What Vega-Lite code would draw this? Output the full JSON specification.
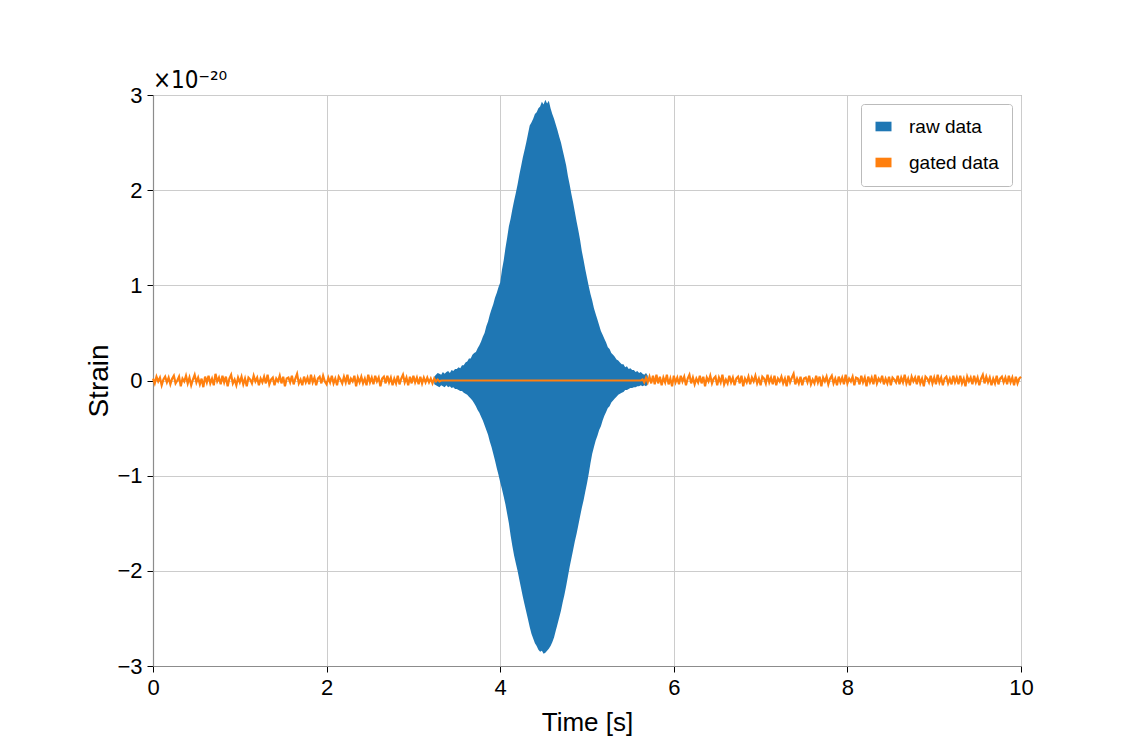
{
  "$schema": "https://vega.github.io/schema/vega-lite/v6.json",
  "autosize": "none",
  "width": 868,
  "height": 571,
  "padding": {"left": 153, "top": 95, "right": 124, "bottom": 78},
  "background": "white",
  "title": {"text": "×10⁻²⁰", "anchor": "start", "frame": "group", "offset": -9},
  "config": {
    "view": {"stroke": "#8c8c8c", "strokeWidth": 1},
    "title": {"font": "DejaVu Sans Condensed, DejaVu Sans", "fontSize": 24, "fontWeight": "normal", "color": "#000000"},
    "axis": {
      "labelFont": "Liberation Sans, sans-serif",
      "labelFontSize": 22,
      "labelColor": "#000000",
      "titleFont": "Liberation Sans, sans-serif",
      "titleFontSize": 26,
      "titleFontWeight": "normal",
      "titleColor": "#000000",
      "gridColor": "#cccccc",
      "gridWidth": 1,
      "domainColor": "#8c8c8c",
      "domainWidth": 1.2,
      "tickColor": "#000000",
      "tickSize": 6,
      "tickWidth": 1
    },
    "legend": {
      "labelFont": "Liberation Sans, sans-serif",
      "labelFontSize": 19,
      "labelColor": "#000000"
    }
  },
  "datasets": {
    "raw": [
      {"t":3.24,"hi":0.04,"lo":-0.04},{"t":3.26,"hi":0.06,"lo":-0.05},{"t":3.28,"hi":0.08,"lo":-0.06},
      {"t":3.30,"hi":0.07,"lo":-0.07},{"t":3.32,"hi":0.06,"lo":-0.05},{"t":3.34,"hi":0.09,"lo":-0.06},{"t":3.36,"hi":0.07,"lo":-0.07},{"t":3.38,"hi":0.09,"lo":-0.05},
      {"t":3.40,"hi":0.10,"lo":-0.07},{"t":3.42,"hi":0.08,"lo":-0.06},{"t":3.44,"hi":0.11,"lo":-0.08},{"t":3.46,"hi":0.10,"lo":-0.07},{"t":3.48,"hi":0.12,"lo":-0.09},
      {"t":3.50,"hi":0.12,"lo":-0.09},{"t":3.52,"hi":0.14,"lo":-0.10},{"t":3.54,"hi":0.13,"lo":-0.11},{"t":3.56,"hi":0.16,"lo":-0.11},{"t":3.58,"hi":0.16,"lo":-0.13},
      {"t":3.60,"hi":0.19,"lo":-0.14},{"t":3.62,"hi":0.20,"lo":-0.15},{"t":3.64,"hi":0.23,"lo":-0.17},{"t":3.66,"hi":0.23,"lo":-0.19},{"t":3.68,"hi":0.27,"lo":-0.21},
      {"t":3.70,"hi":0.29,"lo":-0.24},{"t":3.72,"hi":0.30,"lo":-0.27},{"t":3.74,"hi":0.34,"lo":-0.31},{"t":3.76,"hi":0.37,"lo":-0.34},{"t":3.78,"hi":0.41,"lo":-0.38},
      {"t":3.80,"hi":0.46,"lo":-0.42},{"t":3.82,"hi":0.50,"lo":-0.47},{"t":3.84,"hi":0.57,"lo":-0.52},{"t":3.86,"hi":0.62,"lo":-0.57},{"t":3.88,"hi":0.69,"lo":-0.64},
      {"t":3.90,"hi":0.75,"lo":-0.70},{"t":3.92,"hi":0.80,"lo":-0.77},{"t":3.94,"hi":0.87,"lo":-0.84},{"t":3.96,"hi":0.92,"lo":-0.92},{"t":3.98,"hi":0.98,"lo":-0.99},
      {"t":4.00,"hi":1.03,"lo":-1.07},{"t":4.02,"hi":1.16,"lo":-1.14},{"t":4.04,"hi":1.26,"lo":-1.22},{"t":4.06,"hi":1.39,"lo":-1.30},{"t":4.08,"hi":1.50,"lo":-1.40},
      {"t":4.10,"hi":1.62,"lo":-1.50},{"t":4.12,"hi":1.70,"lo":-1.63},{"t":4.14,"hi":1.80,"lo":-1.74},{"t":4.16,"hi":1.89,"lo":-1.84},{"t":4.18,"hi":1.97,"lo":-1.92},
      {"t":4.20,"hi":2.06,"lo":-2.00},{"t":4.22,"hi":2.16,"lo":-2.09},{"t":4.24,"hi":2.25,"lo":-2.18},{"t":4.26,"hi":2.34,"lo":-2.27},{"t":4.28,"hi":2.42,"lo":-2.35},
      {"t":4.30,"hi":2.50,"lo":-2.43},{"t":4.32,"hi":2.59,"lo":-2.51},{"t":4.34,"hi":2.68,"lo":-2.59},{"t":4.36,"hi":2.71,"lo":-2.66},{"t":4.38,"hi":2.75,"lo":-2.71},
      {"t":4.40,"hi":2.80,"lo":-2.76},{"t":4.42,"hi":2.82,"lo":-2.79},{"t":4.44,"hi":2.86,"lo":-2.83},{"t":4.46,"hi":2.88,"lo":-2.85},{"t":4.48,"hi":2.93,"lo":-2.84},
      {"t":4.50,"hi":2.90,"lo":-2.87},{"t":4.52,"hi":2.95,"lo":-2.86},{"t":4.54,"hi":2.91,"lo":-2.84},{"t":4.56,"hi":2.94,"lo":-2.82},{"t":4.58,"hi":2.86,"lo":-2.79},
      {"t":4.60,"hi":2.80,"lo":-2.75},{"t":4.62,"hi":2.75,"lo":-2.70},{"t":4.64,"hi":2.69,"lo":-2.63},{"t":4.66,"hi":2.63,"lo":-2.56},{"t":4.68,"hi":2.56,"lo":-2.49},
      {"t":4.70,"hi":2.50,"lo":-2.42},{"t":4.72,"hi":2.42,"lo":-2.33},{"t":4.74,"hi":2.34,"lo":-2.25},{"t":4.76,"hi":2.26,"lo":-2.16},{"t":4.78,"hi":2.15,"lo":-2.06},
      {"t":4.80,"hi":2.06,"lo":-1.96},{"t":4.82,"hi":1.96,"lo":-1.87},{"t":4.84,"hi":1.87,"lo":-1.78},{"t":4.86,"hi":1.77,"lo":-1.69},{"t":4.88,"hi":1.67,"lo":-1.61},
      {"t":4.90,"hi":1.58,"lo":-1.52},{"t":4.92,"hi":1.48,"lo":-1.43},{"t":4.94,"hi":1.36,"lo":-1.34},{"t":4.96,"hi":1.27,"lo":-1.26},{"t":4.98,"hi":1.17,"lo":-1.17},
      {"t":5.00,"hi":1.08,"lo":-1.08},{"t":5.02,"hi":0.99,"lo":-0.98},{"t":5.04,"hi":0.91,"lo":-0.87},{"t":5.06,"hi":0.84,"lo":-0.77},{"t":5.08,"hi":0.76,"lo":-0.70},
      {"t":5.10,"hi":0.70,"lo":-0.63},{"t":5.12,"hi":0.64,"lo":-0.58},{"t":5.14,"hi":0.58,"lo":-0.52},{"t":5.16,"hi":0.52,"lo":-0.48},{"t":5.18,"hi":0.48,"lo":-0.42},
      {"t":5.20,"hi":0.44,"lo":-0.37},{"t":5.22,"hi":0.40,"lo":-0.33},{"t":5.24,"hi":0.35,"lo":-0.29},{"t":5.26,"hi":0.33,"lo":-0.27},{"t":5.28,"hi":0.29,"lo":-0.23},
      {"t":5.30,"hi":0.27,"lo":-0.21},{"t":5.32,"hi":0.25,"lo":-0.19},{"t":5.34,"hi":0.22,"lo":-0.17},{"t":5.36,"hi":0.21,"lo":-0.15},{"t":5.38,"hi":0.19,"lo":-0.14},
      {"t":5.40,"hi":0.17,"lo":-0.13},{"t":5.42,"hi":0.17,"lo":-0.12},{"t":5.44,"hi":0.14,"lo":-0.10},{"t":5.46,"hi":0.15,"lo":-0.10},{"t":5.48,"hi":0.12,"lo":-0.09},
      {"t":5.50,"hi":0.13,"lo":-0.08},{"t":5.52,"hi":0.11,"lo":-0.08},{"t":5.54,"hi":0.11,"lo":-0.07},{"t":5.56,"hi":0.09,"lo":-0.07},{"t":5.58,"hi":0.10,"lo":-0.06},
      {"t":5.60,"hi":0.08,"lo":-0.06},{"t":5.62,"hi":0.09,"lo":-0.05},{"t":5.64,"hi":0.07,"lo":-0.06},{"t":5.66,"hi":0.06,"lo":-0.05},{"t":5.68,"hi":0.08,"lo":-0.06},
      {"t":5.70,"hi":0.05,"lo":-0.04}
    ],
    "gated": [
      {"t":0.00,"g":0.02},{"t":0.02,"g":-0.03},{"t":0.04,"g":0.04},{"t":0.06,"g":-0.01},{"t":0.08,"g":0.03},{"t":0.10,"g":-0.05},{"t":0.12,"g":0.01},{"t":0.14,"g":0.04},{"t":0.16,"g":-0.02},{"t":0.18,"g":0.03},
      {"t":0.20,"g":-0.04},{"t":0.22,"g":0.02},{"t":0.24,"g":0.05},{"t":0.26,"g":-0.03},{"t":0.28,"g":0.00},{"t":0.30,"g":0.04},{"t":0.32,"g":-0.06},{"t":0.34,"g":0.02},{"t":0.36,"g":-0.01},{"t":0.38,"g":0.05},
      {"t":0.40,"g":-0.03},{"t":0.42,"g":0.03},{"t":0.44,"g":-0.05},{"t":0.46,"g":0.01},{"t":0.48,"g":0.06},{"t":0.50,"g":-0.02},{"t":0.52,"g":0.03},{"t":0.54,"g":-0.04},{"t":0.56,"g":0.02},{"t":0.58,"g":-0.07},
      {"t":0.60,"g":0.04},{"t":0.62,"g":-0.02},{"t":0.64,"g":0.05},{"t":0.66,"g":-0.03},{"t":0.68,"g":0.02},{"t":0.70,"g":-0.05},{"t":0.72,"g":0.07},{"t":0.74,"g":-0.01},{"t":0.76,"g":0.03},{"t":0.78,"g":-0.04},
      {"t":0.80,"g":0.05},{"t":0.82,"g":-0.02},{"t":0.84,"g":0.04},{"t":0.86,"g":-0.06},{"t":0.88,"g":0.02},{"t":0.90,"g":0.06},{"t":0.92,"g":-0.03},{"t":0.94,"g":0.01},{"t":0.96,"g":-0.05},{"t":0.98,"g":0.03},
      {"t":1.00,"g":-0.02},{"t":1.02,"g":0.04},{"t":1.04,"g":-0.04},{"t":1.06,"g":0.02},{"t":1.08,"g":-0.06},{"t":1.10,"g":0.03},{"t":1.12,"g":0.01},{"t":1.14,"g":-0.03},{"t":1.16,"g":0.05},{"t":1.18,"g":-0.01},
      {"t":1.20,"g":0.03},{"t":1.22,"g":-0.05},{"t":1.24,"g":0.02},{"t":1.26,"g":-0.02},{"t":1.28,"g":0.04},{"t":1.30,"g":-0.03},{"t":1.32,"g":0.06},{"t":1.34,"g":-0.04},{"t":1.36,"g":0.01},{"t":1.38,"g":0.03},
      {"t":1.40,"g":-0.05},{"t":1.42,"g":0.02},{"t":1.44,"g":-0.01},{"t":1.46,"g":0.05},{"t":1.48,"g":-0.03},{"t":1.50,"g":0.04},{"t":1.52,"g":-0.06},{"t":1.54,"g":0.02},{"t":1.56,"g":0.03},{"t":1.58,"g":-0.02},
      {"t":1.60,"g":0.05},{"t":1.62,"g":-0.04},{"t":1.64,"g":0.02},{"t":1.66,"g":0.07},{"t":1.68,"g":-0.03},{"t":1.70,"g":0.01},{"t":1.72,"g":-0.05},{"t":1.74,"g":0.04},{"t":1.76,"g":-0.02},{"t":1.78,"g":0.03},
      {"t":1.80,"g":-0.04},{"t":1.82,"g":0.06},{"t":1.84,"g":-0.02},{"t":1.86,"g":0.03},{"t":1.88,"g":-0.05},{"t":1.90,"g":0.02},{"t":1.92,"g":0.04},{"t":1.94,"g":-0.03},{"t":1.96,"g":0.05},{"t":1.98,"g":-0.01},
      {"t":2.00,"g":-0.04},{"t":2.02,"g":0.03},{"t":2.04,"g":-0.02},{"t":2.06,"g":0.05},{"t":2.08,"g":-0.03},{"t":2.10,"g":0.02},{"t":2.12,"g":-0.05},{"t":2.14,"g":0.04},{"t":2.16,"g":0.01},{"t":2.18,"g":-0.03},
      {"t":2.20,"g":0.04},{"t":2.22,"g":-0.02},{"t":2.24,"g":0.06},{"t":2.26,"g":-0.04},{"t":2.28,"g":0.02},{"t":2.30,"g":-0.01},{"t":2.32,"g":0.05},{"t":2.34,"g":-0.06},{"t":2.36,"g":0.03},{"t":2.38,"g":-0.02},
      {"t":2.40,"g":0.04},{"t":2.42,"g":-0.03},{"t":2.44,"g":0.02},{"t":2.46,"g":-0.05},{"t":2.48,"g":0.06},{"t":2.50,"g":-0.02},{"t":2.52,"g":0.03},{"t":2.54,"g":-0.04},{"t":2.56,"g":0.05},{"t":2.58,"g":-0.01},
      {"t":2.60,"g":0.03},{"t":2.62,"g":-0.06},{"t":2.64,"g":0.02},{"t":2.66,"g":0.04},{"t":2.68,"g":-0.03},{"t":2.70,"g":0.05},{"t":2.72,"g":-0.02},{"t":2.74,"g":0.03},{"t":2.76,"g":-0.05},{"t":2.78,"g":0.02},
      {"t":2.80,"g":-0.03},{"t":2.82,"g":0.05},{"t":2.84,"g":-0.04},{"t":2.86,"g":0.02},{"t":2.88,"g":0.06},{"t":2.90,"g":-0.02},{"t":2.92,"g":0.03},{"t":2.94,"g":-0.05},{"t":2.96,"g":0.04},{"t":2.98,"g":-0.03},
      {"t":3.00,"g":0.05},{"t":3.02,"g":-0.02},{"t":3.04,"g":0.03},{"t":3.06,"g":-0.04},{"t":3.08,"g":0.04},{"t":3.10,"g":-0.03},{"t":3.12,"g":0.03},{"t":3.14,"g":-0.02},{"t":3.16,"g":0.03},{"t":3.18,"g":-0.02},
      {"t":3.20,"g":0.02},{"t":3.22,"g":-0.03},{"t":3.24,"g":0.02},{"t":3.26,"g":-0.01},{"t":3.28,"g":0.01},{"t":3.30,"g":-0.01},
      {"t":3.32,"g":0.00},{"t":5.62,"g":0.00},
      {"t":5.64,"g":0.01},{"t":5.66,"g":-0.02},{"t":5.68,"g":0.03},{"t":5.70,"g":-0.02},{"t":5.72,"g":0.04},{"t":5.74,"g":-0.03},{"t":5.76,"g":0.05},{"t":5.78,"g":-0.04},{"t":5.80,"g":0.06},{"t":5.82,"g":-0.03},
      {"t":5.84,"g":0.04},{"t":5.86,"g":-0.05},{"t":5.88,"g":0.03},{"t":5.90,"g":-0.02},{"t":5.92,"g":0.06},{"t":5.94,"g":-0.04},{"t":5.96,"g":0.02},{"t":5.98,"g":-0.06},{"t":6.00,"g":0.05},{"t":6.02,"g":-0.02},
      {"t":6.04,"g":0.03},{"t":6.06,"g":-0.04},{"t":6.08,"g":0.05},{"t":6.10,"g":-0.01},{"t":6.12,"g":0.04},{"t":6.14,"g":-0.05},{"t":6.16,"g":0.02},{"t":6.18,"g":0.06},{"t":6.20,"g":-0.03},{"t":6.22,"g":0.03},
      {"t":6.24,"g":-0.04},{"t":6.26,"g":0.02},{"t":6.28,"g":-0.02},{"t":6.30,"g":0.05},{"t":6.32,"g":-0.03},{"t":6.34,"g":0.04},{"t":6.36,"g":-0.06},{"t":6.38,"g":0.03},{"t":6.40,"g":-0.01},{"t":6.42,"g":0.05},
      {"t":6.44,"g":-0.03},{"t":6.46,"g":0.02},{"t":6.48,"g":0.04},{"t":6.50,"g":-0.05},{"t":6.52,"g":0.03},{"t":6.54,"g":-0.02},{"t":6.56,"g":0.06},{"t":6.58,"g":-0.04},{"t":6.60,"g":0.01},{"t":6.62,"g":-0.03},
      {"t":6.64,"g":0.05},{"t":6.66,"g":-0.02},{"t":6.68,"g":0.03},{"t":6.70,"g":-0.05},{"t":6.72,"g":0.02},{"t":6.74,"g":0.04},{"t":6.76,"g":-0.03},{"t":6.78,"g":0.05},{"t":6.80,"g":-0.06},{"t":6.82,"g":0.02},
      {"t":6.84,"g":-0.02},{"t":6.86,"g":0.04},{"t":6.88,"g":-0.04},{"t":6.90,"g":0.03},{"t":6.92,"g":-0.01},{"t":6.94,"g":0.05},{"t":6.96,"g":-0.03},{"t":6.98,"g":0.02},{"t":7.00,"g":-0.05},{"t":7.02,"g":0.04},
      {"t":7.04,"g":0.02},{"t":7.06,"g":-0.03},{"t":7.08,"g":0.06},{"t":7.10,"g":-0.02},{"t":7.12,"g":0.03},{"t":7.14,"g":-0.04},{"t":7.16,"g":0.05},{"t":7.18,"g":-0.05},{"t":7.20,"g":0.02},{"t":7.22,"g":-0.01},
      {"t":7.24,"g":0.04},{"t":7.26,"g":-0.03},{"t":7.28,"g":0.02},{"t":7.30,"g":-0.06},{"t":7.32,"g":0.05},{"t":7.34,"g":-0.02},{"t":7.36,"g":0.03},{"t":7.38,"g":0.07},{"t":7.40,"g":-0.04},{"t":7.42,"g":0.02},
      {"t":7.44,"g":-0.03},{"t":7.46,"g":0.04},{"t":7.48,"g":-0.05},{"t":7.50,"g":0.02},{"t":7.52,"g":0.03},{"t":7.54,"g":-0.02},{"t":7.56,"g":0.05},{"t":7.58,"g":-0.04},{"t":7.60,"g":0.01},{"t":7.62,"g":-0.03},
      {"t":7.64,"g":0.05},{"t":7.66,"g":-0.02},{"t":7.68,"g":0.04},{"t":7.70,"g":-0.06},{"t":7.72,"g":0.03},{"t":7.74,"g":-0.01},{"t":7.76,"g":0.04},{"t":7.78,"g":-0.04},{"t":7.80,"g":0.02},{"t":7.82,"g":0.05},
      {"t":7.84,"g":-0.03},{"t":7.86,"g":0.02},{"t":7.88,"g":-0.05},{"t":7.90,"g":0.04},{"t":7.92,"g":-0.02},{"t":7.94,"g":0.03},{"t":7.96,"g":-0.04},{"t":7.98,"g":0.06},{"t":8.00,"g":-0.03},{"t":8.02,"g":0.02},
      {"t":8.04,"g":-0.01},{"t":8.06,"g":0.04},{"t":8.08,"g":-0.05},{"t":8.10,"g":0.03},{"t":8.12,"g":0.02},{"t":8.14,"g":-0.04},{"t":8.16,"g":0.05},{"t":8.18,"g":-0.02},{"t":8.20,"g":0.03},{"t":8.22,"g":-0.06},
      {"t":8.24,"g":0.04},{"t":8.26,"g":-0.02},{"t":8.28,"g":0.03},{"t":8.30,"g":-0.04},{"t":8.32,"g":0.06},{"t":8.34,"g":-0.03},{"t":8.36,"g":0.02},{"t":8.38,"g":-0.01},{"t":8.40,"g":0.05},{"t":8.42,"g":-0.04},
      {"t":8.44,"g":0.02},{"t":8.46,"g":-0.03},{"t":8.48,"g":0.04},{"t":8.50,"g":-0.05},{"t":8.52,"g":0.03},{"t":8.54,"g":0.01},{"t":8.56,"g":-0.02},{"t":8.58,"g":0.05},{"t":8.60,"g":-0.04},{"t":8.62,"g":0.03},
      {"t":8.64,"g":-0.02},{"t":8.66,"g":0.06},{"t":8.68,"g":-0.03},{"t":8.70,"g":0.02},{"t":8.72,"g":-0.05},{"t":8.74,"g":0.04},{"t":8.76,"g":-0.01},{"t":8.78,"g":0.03},{"t":8.80,"g":-0.04},{"t":8.82,"g":0.05},
      {"t":8.84,"g":-0.03},{"t":8.86,"g":0.02},{"t":8.88,"g":-0.06},{"t":8.90,"g":0.04},{"t":8.92,"g":0.02},{"t":8.94,"g":-0.02},{"t":8.96,"g":0.05},{"t":8.98,"g":-0.03},{"t":9.00,"g":0.03},{"t":9.02,"g":-0.04},
      {"t":9.04,"g":0.06},{"t":9.06,"g":-0.02},{"t":9.08,"g":0.03},{"t":9.10,"g":-0.05},{"t":9.12,"g":0.02},{"t":9.14,"g":0.04},{"t":9.16,"g":-0.03},{"t":9.18,"g":0.02},{"t":9.20,"g":-0.04},{"t":9.22,"g":0.05},
      {"t":9.24,"g":-0.02},{"t":9.26,"g":0.03},{"t":9.28,"g":-0.04},{"t":9.30,"g":0.05},{"t":9.32,"g":-0.03},{"t":9.34,"g":0.02},{"t":9.36,"g":-0.06},{"t":9.38,"g":0.04},{"t":9.40,"g":-0.01},{"t":9.42,"g":0.03},
      {"t":9.44,"g":-0.04},{"t":9.46,"g":0.05},{"t":9.48,"g":-0.02},{"t":9.50,"g":0.03},{"t":9.52,"g":-0.05},{"t":9.54,"g":0.02},{"t":9.56,"g":0.06},{"t":9.58,"g":-0.03},{"t":9.60,"g":0.04},{"t":9.62,"g":-0.02},
      {"t":9.64,"g":0.03},{"t":9.66,"g":-0.05},{"t":9.68,"g":0.02},{"t":9.70,"g":-0.03},{"t":9.72,"g":0.05},{"t":9.74,"g":-0.04},{"t":9.76,"g":0.02},{"t":9.78,"g":0.04},{"t":9.80,"g":-0.02},{"t":9.82,"g":0.03},
      {"t":9.84,"g":-0.04},{"t":9.86,"g":0.05},{"t":9.88,"g":-0.02},{"t":9.90,"g":0.03},{"t":9.92,"g":-0.05},{"t":9.94,"g":0.04},{"t":9.96,"g":-0.03},{"t":9.98,"g":0.02},{"t":10.00,"g":0.04}
    ]
  },
  "encoding": {
    "x": {
      "field": "t",
      "type": "quantitative",
      "title": "Time [s]",
      "scale": {"domain": [0, 10], "nice": false, "zero": false},
      "axis": {"values": [0, 2, 4, 6, 8, 10], "format": "d", "labelPadding": 5, "titlePadding": 11, "labelFlush": false}
    }
  },
  "layer": [
    {
      "data": {"name": "raw"},
      "mark": {"type": "area", "interpolate": "linear", "opacity": 1},
      "encoding": {
        "y": {
          "field": "hi",
          "type": "quantitative",
          "title": "Strain",
          "scale": {"domain": [-3, 3], "nice": false},
          "axis": {"values": [-3, -2, -1, 0, 1, 2, 3], "format": "d", "labelPadding": 5, "titlePadding": 3, "titleFontSize": 28}
        },
        "y2": {"field": "lo"},
        "color": {
          "datum": "raw data",
          "type": "nominal",
          "scale": {"domain": ["raw data", "gated data"], "range": ["#1f77b4", "#ff7f0e"]},
          "legend": {
            "title": null,
            "orient": "top-right",
            "offset": 9,
            "padding": 13,
            "fillColor": "white",
            "strokeColor": "#bbbbbb",
            "cornerRadius": 3,
            "symbolType": "M-1,-0.6H1V0.6H-1Z",
            "symbolSize": 256,
            "symbolStrokeWidth": 0,
            "labelOffset": 16,
            "rowPadding": 16,
            "encode": {"symbols": {"update": {"fill": {"scale": "color", "field": "value"}, "opacity": {"value": 1}, "strokeWidth": {"value": 0}}}}
          }
        }
      }
    },
    {
      "data": {"name": "gated"},
      "mark": {"type": "line", "strokeWidth": 2.2, "interpolate": "linear"},
      "encoding": {
        "y": {"field": "g", "type": "quantitative", "title": "Strain"},
        "color": {"datum": "gated data", "type": "nominal"}
      }
    }
  ]
}
